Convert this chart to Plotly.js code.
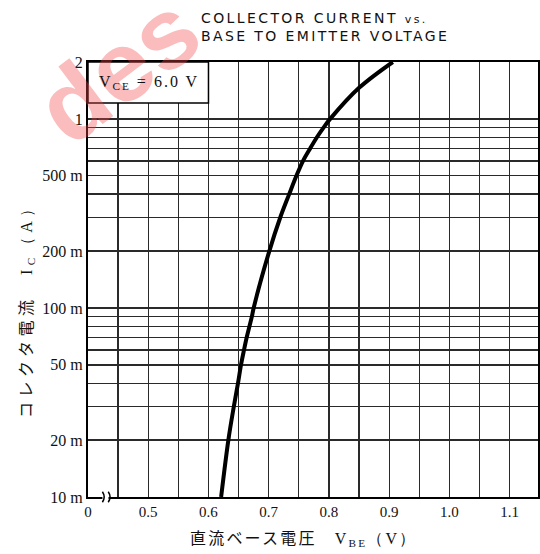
<!DOCTYPE html>
<html>
<head>
<meta charset="utf-8">
<script src="https://cdn.plot.ly/plotly-3.0.1.min.js"></script>
<style>html,body{margin:0;padding:0;background:#fff;}</style>
</head>
<body>
<div id="chart" style="width:540px;height:554px;"></div>
<script>
// Curve: collector current Ic (A) vs base-emitter voltage Vbe (V), VCE = 6.0 V
const vbe = [0.621, 0.633, 0.642, 0.649, 0.654, 0.659, 0.6635, 0.668, 0.672, 0.675,
             0.701, 0.719, 0.734, 0.746, 0.757, 0.769, 0.780, 0.791, 0.802, 0.850, 0.906];
const ic  = [0.01, 0.02, 0.03, 0.04, 0.05, 0.06, 0.07, 0.08, 0.09, 0.1,
             0.2, 0.3, 0.4, 0.5, 0.6, 0.7, 0.8, 0.9, 1.0, 1.46, 2.0];

// Axis ticks
const xTickVals = [0.4, 0.5, 0.6, 0.7, 0.8, 0.9, 1.0, 1.1];
const xTickText = ['0', '0.5', '0.6', '0.7', '0.8', '0.9', '1.0', '1.1'];
const yTickVals = [0.01, 0.02, 0.05, 0.1, 0.2, 0.5, 1, 2];
const yTickText = ['10 m', '20 m', '50 m', '100 m', '200 m', '500 m', '1', '2'];
const yGridVals = [0.03, 0.04, 0.06, 0.07, 0.08, 0.09,
                   0.3, 0.4, 0.6, 0.7, 0.8, 0.9];

const titleLines = ['COLLECTOR CURRENT <span style="font-size:11px">vs.</span>', 'BASE TO EMITTER VOLTAGE'];
const conditionText = 'V<sub>CE</sub> = 6.0 V';
const xTitle = '直流ベース電圧　<span style="font-family:Liberation Serif">V<sub>BE</sub>（V）</span>';
const yTitle = 'コレクタ電流　<span style="font-family:Liberation Serif">I<sub>C</sub>（A）</span>';
const watermark = 'des';

const serif = 'Liberation Serif, serif';
const gridCol = '#2a2a2a';

const trace = {
  x: vbe, y: ic, type: 'scatter', mode: 'lines',
  line: {color: '#000', width: 4, shape: 'spline', smoothing: 1},
  hoverinfo: 'skip'
};

const spaced = (s, px) => '<span style="letter-spacing:' + px + 'px">' + s + '</span>';

const layout = {
  width: 540, height: 554,
  margin: {l: 88, r: 2, t: 62, b: 57},
  paper_bgcolor: '#fff', plot_bgcolor: '#fff',
  showlegend: false,
  xaxis: {
    range: [0.4, 1.147], tickvals: xTickVals, ticktext: xTickText,
    showgrid: true, gridcolor: gridCol, gridwidth: 1.3,
    minor: {tick0: 0.4, dtick: 0.05, showgrid: true, gridcolor: gridCol, gridwidth: 1.3, ticks: ''},
    ticks: '', zeroline: false,
    showline: true, mirror: true, linecolor: '#000', linewidth: 2,
    tickfont: {family: serif, size: 15, color: '#111'}
  },
  yaxis: {
    type: 'log', range: [-2, Math.log10(2)],
    tickvals: yTickVals, ticktext: yTickText,
    showgrid: true, gridcolor: gridCol, gridwidth: 1.3,
    minor: {tickmode: 'array', tickvals: yGridVals, showgrid: true, gridcolor: gridCol, gridwidth: 1.3, ticks: ''},
    ticks: '', zeroline: false,
    showline: true, mirror: true, linecolor: '#000', linewidth: 2,
    tickfont: {family: serif, size: 16, color: '#111'}
  },
  shapes: [
    // condition box (covers grid in the top-left corner)
    {type: 'rect', xref: 'x', yref: 'paper', x0: 0.4, x1: 0.6, y0: 0.906, y1: 1,
     fillcolor: '#fff', line: {color: '#000', width: 1.5}, layer: 'above'},
    // axis break marks on the V axis
    {type: 'rect', xref: 'x', yref: 'paper', x0: 0.424, x1: 0.434, y0: -0.008, y1: 0.008,
     fillcolor: '#fff', line: {width: 0}, layer: 'above'},
    {type: 'path', xref: 'paper', yref: 'paper',
     path: 'M 0.032 -0.012 Q 0.040 0 0.032 0.012 M 0.045 -0.012 Q 0.053 0 0.045 0.012',
     line: {color: '#000', width: 1.5}, layer: 'above'}
  ],
  annotations: [
    {text: watermark, xref: 'paper', yref: 'paper', x: 0.065, y: 0.985,
     xanchor: 'center', yanchor: 'middle', textangle: -37, showarrow: false,
     font: {family: 'Liberation Sans, Arial', size: 100, color: 'rgba(240,70,70,0.36)', weight: 'bold'}},
    {text: titleLines.map(s => spaced(s, 2.4)).join('<br>'), xref: 'paper', yref: 'paper', x: 0.247, y: 1.125,
     xanchor: 'left', yanchor: 'top', align: 'left', showarrow: false,
     font: {family: 'DejaVu Sans', size: 14, color: '#111'}},
    {text: spaced(conditionText, 2), xref: 'paper', yref: 'paper', x: 0.02, y: 0.954,
     xanchor: 'left', yanchor: 'middle', showarrow: false,
     font: {family: serif, size: 16, color: '#111'}},
    {text: spaced(xTitle, 2.2), xref: 'paper', yref: 'paper', x: 0.478, y: 0, yshift: -40,
     xanchor: 'center', yanchor: 'middle', showarrow: false,
     font: {family: 'Noto Sans CJK JP', size: 16, color: '#111'}},
    {text: spaced(yTitle, 4.5), xref: 'paper', yref: 'paper', x: 0, xshift: -63, y: 0.437,
     xanchor: 'center', yanchor: 'middle', textangle: -90, showarrow: false,
     font: {family: 'Noto Sans CJK JP', size: 16, color: '#111'}}
  ]
};

Plotly.newPlot('chart', [trace], layout, {staticPlot: true, displayModeBar: false});
</script>
</body>
</html>
